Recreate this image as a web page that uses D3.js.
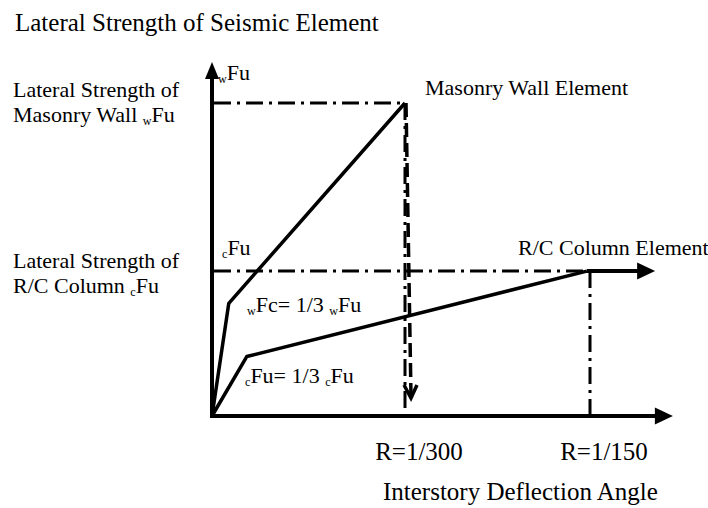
<!DOCTYPE html>
<html>
<head>
<meta charset="utf-8">
<script src="https://cdn.jsdelivr.net/npm/d3@7"></script>
<style>
  body { margin: 0; background: #fff; }
  svg text { font-family: "Liberation Serif", "Times New Roman", serif; fill: #000; }
</style>
</head>
<body>
<svg id="chart" width="708" height="508"></svg>
<script>
// strength normalised by wFu, deflection angle in rad
var wallCurve = [[0, 0], [0.00029, 0.36], [1 / 300, 1.0]];
var columnCurve = [[0, 0], [0.0006, 0.19], [0.00661, 0.463]];
var wallFu = 1.0, columnFu = 0.463;
var wallR = 1 / 300, columnR = 1 / 150;
var xTicks = [1 / 300, 1 / 150];
var xTickLabels = ["R=1/300", "R=1/150"];
var xMax = 0.00816, yMax = 1.131, columnArrowEnd = 0.00784;

var svg = d3.select("svg#chart");

var x = d3.scaleLinear().domain([0, 1 / 300, 1 / 150]).range([212, 405, 590]);
var y = d3.scaleLinear().domain([0, 1]).range([416, 103]);

var line = d3.line().x(function(d) { return x(d[0]); }).y(function(d) { return y(d[1]); });

// filled arrow head pointing in direction angle (deg), tip at (tx,ty)
function arrowHead(tx, ty, angle, len, half) {
  svg.append("path")
    .attr("d", "M0,0L" + (-len) + "," + (-half) + "L" + (-len) + "," + half + "Z")
    .attr("transform", "translate(" + tx + "," + ty + ") rotate(" + angle + ")")
    .attr("fill", "#000");
}

var dashDot = "17,6,3,6";

// reference lines
svg.append("line")
    .attr("x1", x(0) + 2).attr("y1", y(wallFu)).attr("x2", x(wallR)).attr("y2", y(wallFu))
    .attr("stroke", "#000").attr("stroke-width", 3).attr("stroke-dasharray", dashDot);
svg.append("line")
    .attr("x1", x(0) + 2).attr("y1", y(columnFu)).attr("x2", x(columnCurve[2][0])).attr("y2", y(columnFu))
    .attr("stroke", "#000").attr("stroke-width", 3).attr("stroke-dasharray", dashDot);
svg.append("line")
    .attr("x1", x(wallR)).attr("y1", y(wallFu)).attr("x2", x(wallR)).attr("y2", y(0))
    .attr("stroke", "#000").attr("stroke-width", 3).attr("stroke-dasharray", dashDot);
svg.append("line")
    .attr("x1", x(columnR)).attr("y1", y(columnFu)).attr("x2", x(columnR)).attr("y2", y(0))
    .attr("stroke", "#000").attr("stroke-width", 3).attr("stroke-dasharray", dashDot);

// dashed drop arrow from wall peak
var dropX = x(wallR) + 6, dropY = y(0) - 18;
svg.append("line")
    .attr("x1", x(wallR) + 1).attr("y1", y(wallFu)).attr("x2", dropX).attr("y2", dropY - 2)
    .attr("stroke", "#000").attr("stroke-width", 3.5).attr("stroke-dasharray", "14,6");
svg.append("path")
    .attr("d", "M" + (dropX - 7) + "," + (dropY - 13) + "L" + dropX + "," + dropY + "L" + (dropX + 6) + "," + (dropY - 13))
    .attr("fill", "none").attr("stroke", "#000").attr("stroke-width", 3.5);

// curves
svg.append("path").datum(wallCurve).attr("d", line)
    .attr("fill", "none").attr("stroke", "#000").attr("stroke-width", 3.5).attr("stroke-linejoin", "round");
svg.append("path").datum(columnCurve).attr("d", line)
    .attr("fill", "none").attr("stroke", "#000").attr("stroke-width", 3.5).attr("stroke-linejoin", "round");

// column plateau arrow
svg.append("line")
    .attr("x1", x(columnCurve[2][0])).attr("y1", y(columnFu)).attr("x2", x(columnArrowEnd) - 14).attr("y2", y(columnFu))
    .attr("stroke", "#000").attr("stroke-width", 4);
arrowHead(x(columnArrowEnd), y(columnFu), 0, 18, 8.5);

// axes
svg.append("line")
    .attr("x1", x(0)).attr("y1", y(0) + 2).attr("x2", x(0)).attr("y2", y(yMax) + 14)
    .attr("stroke", "#000").attr("stroke-width", 4);
arrowHead(x(0), y(yMax), -90, 17, 7);
svg.append("line")
    .attr("x1", x(0) - 2).attr("y1", y(0)).attr("x2", x(xMax) - 14).attr("y2", y(0))
    .attr("stroke", "#000").attr("stroke-width", 4);
arrowHead(x(xMax), y(0), 0, 18, 8.5);

// text with {sub} parts
var fs = 22, bigFs = 25;
function label(px, py, str, size) {
  size = size || fs;
  var t = svg.append("text")
      .attr("x", px).attr("y", py)
      .attr("font-size", size);
  var parts = str.split(/(\{[^}]*\})/).filter(function(s) { return s.length; });
  var shifted = false;
  parts.forEach(function(p) {
    if (p[0] === "{") {
      t.append("tspan").attr("font-size", size * 0.55).attr("dy", shifted ? 0 : 3).text(p.slice(1, -1));
      shifted = true;
    } else {
      t.append("tspan").attr("dy", shifted ? -3 : 0).text(p);
      shifted = false;
    }
  });
  return t;
}

label(15, 31, "Lateral Strength of Seismic Element", bigFs);
label(13, 97, "Lateral Strength of");
label(13, 122, "Masonry Wall {w}Fu");
label(13, 268, "Lateral Strength of");
label(13, 293, "R/C Column {c}Fu");
label(x(0) + 6, 80, "{w}Fu");
label(x(0) + 10, 255, "{c}Fu");
label(425, 95, "Masonry Wall Element");
label(518, 255, "R/C Column Element");
label(247, 312, "{w}Fc= 1/3 {w}Fu");
label(245, 383, "{c}Fu= 1/3 {c}Fu");

svg.selectAll("text.tick")
  .data(xTicks)
  .enter().append("text")
    .attr("class", "tick")
    .attr("x", function(d) { return x(d) + 14; })
    .attr("y", 460)
    .attr("font-size", bigFs)
    .attr("text-anchor", "middle")
    .text(function(d, i) { return xTickLabels[i]; });

label(383, 500, "Interstory Deflection Angle", bigFs);
</script>
</body>
</html>
